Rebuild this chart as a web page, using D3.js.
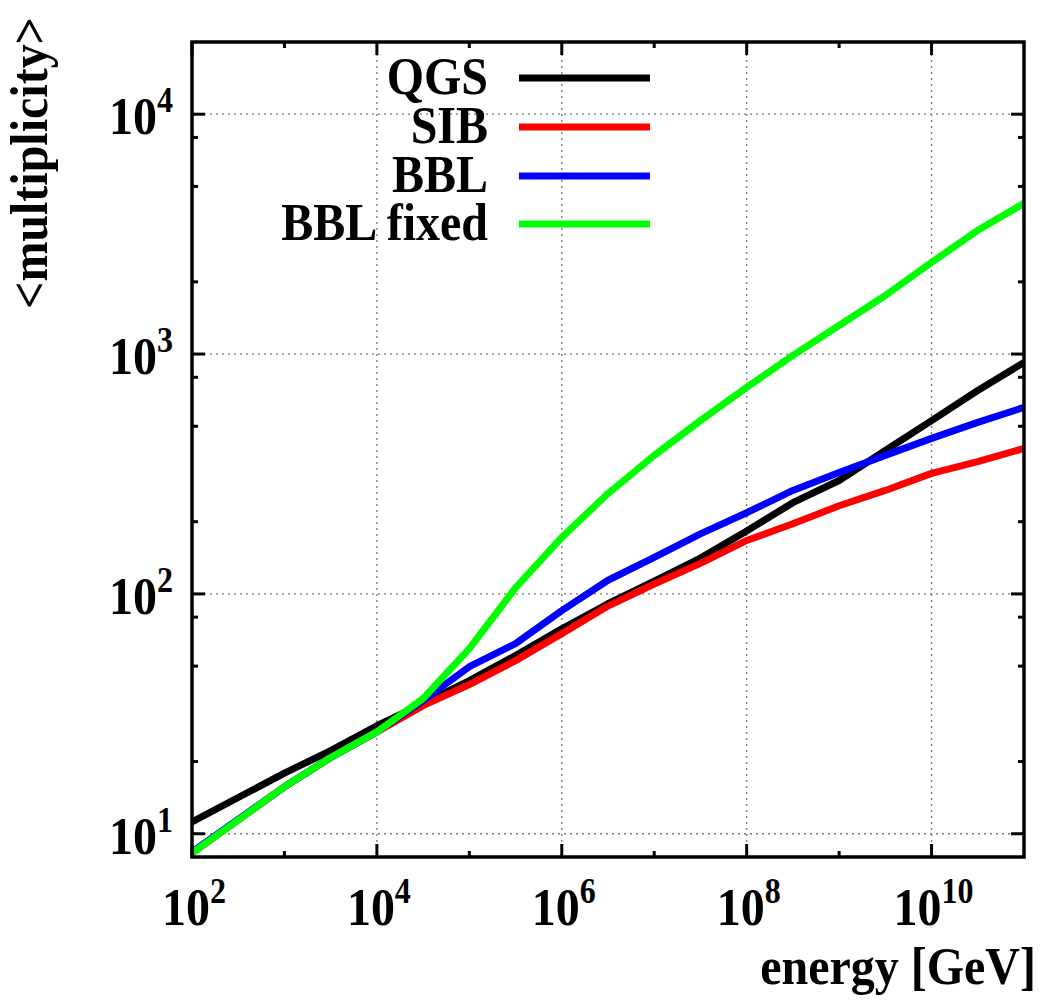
<html>
<head>
<style>
  body { margin: 0; background: #fff; }
  text { font-family: "Liberation Serif", "Times New Roman", serif; font-weight: bold; fill: #000; }
</style>
</head>
<body>
<svg id="mainSvg" width="1051" height="1007"></svg>
<script src="https://d3js.org/d3.v7.min.js"></script>
<script>
// energy points [GeV]
const energy = [1e2, 1e3, 3.16e3, 1e4, 3.16e4, 1e5, 3.16e5, 1e6, 3.16e6, 1e7, 3.16e7,
                1e8, 3.16e8, 1e9, 3.16e9, 1e10, 3.16e10, 1e11]
const qgs = [11.2, 17.9, 22.2, 28.2, 34.9, 43.5, 55.3, 71.6, 91, 113, 141, 183, 240, 297, 396, 528, 705, 923]
const sib = [8.3, 15.7, 20.8, 26.6, 34.2, 41.9, 52.7, 68.3, 89, 110, 134, 167, 196, 233, 270, 318, 356, 404]
const bbl = [8.4, 15.7, 20.8, 26.6, 35.9, 49.7, 62, 85.2, 114, 142, 178, 218, 270, 321, 378, 445, 519, 599]
const bblFixed = [8.3, 15.7, 20.8, 26.6, 36.6, 59.1, 106, 172, 262, 378, 528, 726, 987, 1316, 1754, 2411, 3280, 4250]

const seriesNames = ['QGS', 'SIB', 'BBL', 'BBL fixed']
const seriesValues = [qgs, sib, bbl, bblFixed]
const seriesColors = ['#000000', '#ff0000', '#0000ff', '#00ff00']

const xMajorTicks = [1e2, 1e4, 1e6, 1e8, 1e10]
const xLabelExp = ['2', '4', '6', '8', '10']
const xMinorTicks = [1e3, 1e5, 1e7, 1e9]
const yMajorTicks = [1e1, 1e2, 1e3, 1e4]
const yLabelExp = ['1', '2', '3', '4']
const yMinorTicks = [20, 50, 80, 200, 500, 800, 2000, 5000, 8000]

const svg = d3.select('#mainSvg')
const plotL = 192, plotR = 1024, plotT = 42, plotB = 857
const fontSize = 48, supSize = 32, stretch = 1.09

const xScale = d3.scaleLog().domain([1e2, 1e11]).range([plotL, plotR])
const yScale = d3.scaleLog().domain([8, 20000]).range([plotB, plotT])

// text placed at (x, y) baseline, slightly stretched vertically like the original font
function label(x, y, anchor, extra) {
    return svg.append('text')
        .attr('transform', `translate(${x},${y}) ${extra || ''} scale(1,${stretch})`)
        .attr('text-anchor', anchor).attr('font-size', fontSize)
}

// grid
const grid = svg.append('g').attr('stroke', '#777').attr('stroke-width', 1.3).attr('stroke-dasharray', '2,4')
grid.selectAll('.gx').data(xMajorTicks.slice(1)).join('line')
    .attr('x1', d => xScale(d)).attr('x2', d => xScale(d)).attr('y1', plotT).attr('y2', plotB)
grid.selectAll('.gy').data(yMajorTicks).join('line')
    .attr('x1', plotL).attr('x2', plotR).attr('y1', d => yScale(d)).attr('y2', d => yScale(d))

// curves
svg.append('clipPath').attr('id', 'plotClip').append('rect')
    .attr('x', plotL).attr('y', plotT).attr('width', plotR - plotL).attr('height', plotB - plotT)
const line = d3.line().x((d, i) => xScale(energy[i])).y(d => yScale(d))
svg.append('g').attr('clip-path', 'url(#plotClip)')
    .selectAll('path').data(seriesValues).join('path')
    .attr('d', line).attr('fill', 'none')
    .attr('stroke', (d, i) => seriesColors[i]).attr('stroke-width', 7)
    .attr('stroke-linejoin', 'round')

// ticks (mirrored on all four sides)
const ticks = svg.append('g').attr('stroke', '#000').attr('stroke-width', 3)
const tickSets = [[xMajorTicks, 13], [xMinorTicks, 6]]
tickSets.forEach(([vals, len]) => {
    vals.forEach(v => {
        const x = xScale(v)
        ticks.append('line').attr('x1', x).attr('x2', x).attr('y1', plotB).attr('y2', plotB - len)
        ticks.append('line').attr('x1', x).attr('x2', x).attr('y1', plotT).attr('y2', plotT + len)
    })
})
const yTickSets = [[yMajorTicks, 13], [yMinorTicks, 6]]
yTickSets.forEach(([vals, len]) => {
    vals.forEach(v => {
        const y = yScale(v)
        ticks.append('line').attr('x1', plotL).attr('x2', plotL + len).attr('y1', y).attr('y2', y)
        ticks.append('line').attr('x1', plotR).attr('x2', plotR - len).attr('y1', y).attr('y2', y)
    })
})

// frame
svg.append('rect').attr('x', plotL).attr('y', plotT).attr('width', plotR - plotL).attr('height', plotB - plotT)
    .attr('fill', 'none').attr('stroke', '#000').attr('stroke-width', 3.5)

// tick labels
xMajorTicks.forEach((v, i) => {
    const t = label(xScale(v) + 2, 925, 'middle')
    t.append('tspan').text('10')
    t.append('tspan').attr('dy', -20).attr('font-size', supSize).text(xLabelExp[i])
})
yMajorTicks.forEach((v, i) => {
    const t = label(173, yScale(v) + 20, 'end')
    t.append('tspan').text('10')
    t.append('tspan').attr('dy', -20).attr('font-size', supSize).text(yLabelExp[i])
})

// axis titles
label(1036, 984, 'end').text('energy [GeV]')
label(47, 163, 'middle', 'rotate(-90)').text('<multiplicity>')

// legend
const legendY = [78, 127, 176, 224]
seriesNames.forEach((name, i) => {
    label(488, legendY[i] + 16, 'end').text(name)
    svg.append('line').attr('x1', 519).attr('x2', 650).attr('y1', legendY[i]).attr('y2', legendY[i])
        .attr('stroke', seriesColors[i]).attr('stroke-width', 7)
})
</script>
</body>
</html>
